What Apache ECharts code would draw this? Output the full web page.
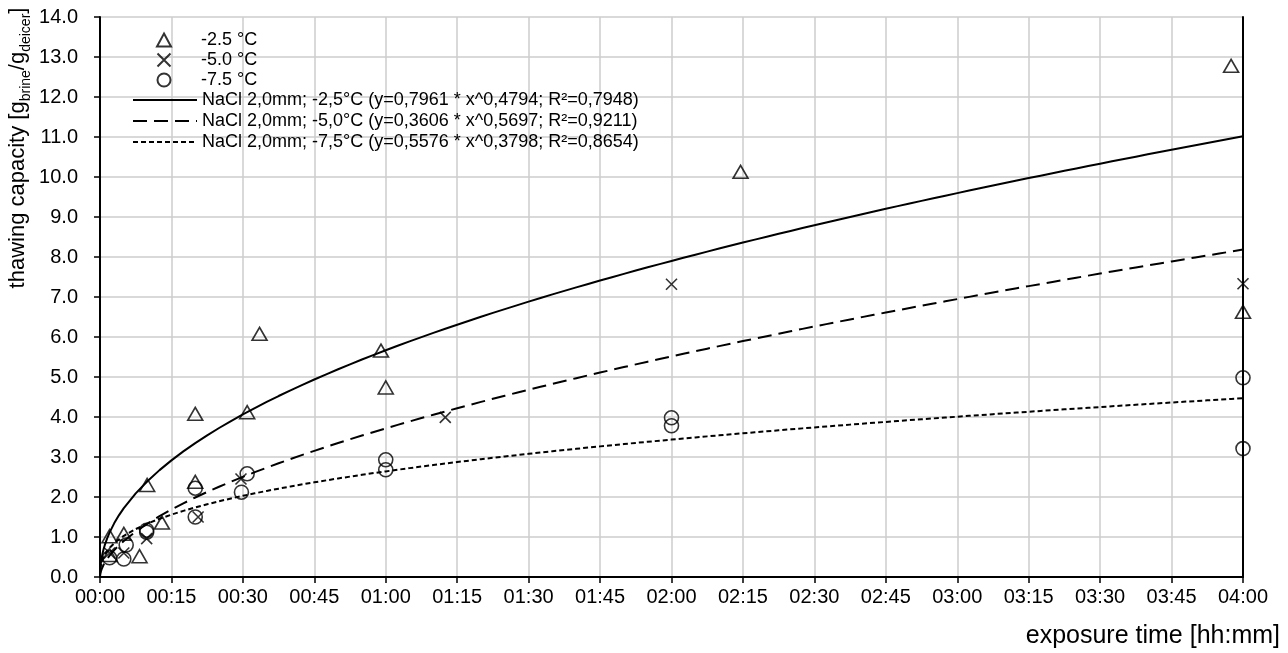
<!DOCTYPE html>
<html>
<head>
<meta charset="utf-8">
<script src="https://cdn.jsdelivr.net/npm/echarts@6/dist/echarts.min.js"></script>
<style>html,body{margin:0;padding:0;background:#fff}#c{width:1288px;height:653px}</style>
</head>
<body>
<div id="c"></div>
<script>
// ---- data (exposure time in minutes, thawing capacity) ----
const xTicks = ['00:00','00:15','00:30','00:45','01:00','01:15','01:30','01:45','02:00','02:15','02:30','02:45','03:00','03:15','03:30','03:45','04:00'];
const seriesNames = ['-2.5 °C', '-5.0 °C', '-7.5 °C'];
const x25 = [2, 2, 5, 8.3, 9.9, 13, 20, 20, 30.9, 33.5, 59, 60, 134.5, 237.5, 240];
const y25 = [1.02, 0.55, 1.08, 0.52, 2.30, 1.36, 4.08, 2.38, 4.12, 6.08, 5.66, 4.74, 10.13, 12.78, 6.63];
const x50 = [2, 5, 9.8, 20.6, 29.6, 72.5, 120, 240];
const y50 = [0.60, 0.60, 0.96, 1.50, 2.45, 3.99, 7.32, 7.33];
const x75 = [2, 5, 5.5, 9.8, 9.8, 20, 20, 29.7, 30.9, 60, 60, 120, 120, 240, 240];
const y75 = [0.48, 0.45, 0.80, 1.17, 1.12, 2.22, 1.50, 2.12, 2.58, 2.93, 2.68, 3.98, 3.78, 4.98, 3.21];
// power-law trend lines printed in the legend: y = a * x^b (x in minutes)
const trendNames = [
  'NaCl 2,0mm; -2,5°C (y=0,7961 * x^0,4794; R²=0,7948)',
  'NaCl 2,0mm; -5,0°C (y=0,3606 * x^0,5697; R²=0,9211)',
  'NaCl 2,0mm; -7,5°C (y=0,5576 * x^0,3798; R²=0,8654)'
];
const trendA = [0.7961, 0.3606, 0.5576];
const trendB = [0.4794, 0.5697, 0.3798];

function pairs(xs, ys) { return xs.map((x, i) => [x, ys[i]]); }
function trend(k) {
  const xs = [0, 0.01, 0.03, 0.06, 0.1, 0.2, 0.35, 0.5, 0.75, 1, 1.5, 2, 3, 4];
  for (let x = 5; x <= 240; x += 2.5) xs.push(x);
  if (xs[xs.length - 1] !== 240) xs.push(240);
  return xs.map(x => [x, trendA[k] * Math.pow(x, trendB[k])]);
}

const black = '#000';
const markerStyle = { color: 'rgba(0,0,0,0)', borderColor: black, borderWidth: 1.6 };
const font = 'Liberation Sans, Arial, sans-serif';

const chart = echarts.init(document.getElementById('c'), null, { renderer: 'canvas' });
chart.setOption({
  backgroundColor: '#fff',
  animation: false,
  textStyle: { fontFamily: font, color: black },
  grid: { left: 100, right: 45, top: 17, bottom: 76, containLabel: false },
  legend: [
    {
      data: seriesNames, orient: 'vertical', left: 151, top: 26,
      itemWidth: 14, itemHeight: 13, itemGap: 2,
      textStyle: { fontSize: 18, color: black, fontFamily: font, padding: [0, 0, 0, 25] }
    },
    {
      data: trendNames, orient: 'vertical', left: 127, top: 86,
      itemWidth: 64, itemHeight: 12, itemGap: 3,
      itemStyle: { color: 'rgba(0,0,0,0)', borderColor: 'rgba(0,0,0,0)', borderWidth: 0 },
      textStyle: { fontSize: 18, color: black, fontFamily: font }
    }
  ],
  xAxis: {
    type: 'value', min: 0, max: 240, interval: 15,
    axisLine: { show: true, onZero: false, lineStyle: { color: black, width: 2 } },
    axisTick: { show: true, length: 6, lineStyle: { color: black, width: 1.5 } },
    axisLabel: { fontSize: 20, color: black, margin: 10, fontFamily: font,
      formatter: v => xTicks[Math.round(v / 15)] },
    splitLine: { show: true, lineStyle: { color: '#cccccc', width: 1.5 } }
  },
  yAxis: [
    {
      type: 'value', min: 0, max: 14, interval: 1,
      axisLine: { show: true, lineStyle: { color: black, width: 2 } },
      axisTick: { show: true, length: 6, lineStyle: { color: black, width: 1.5 } },
      axisLabel: { fontSize: 20, color: black, margin: 22, fontFamily: font,
        formatter: v => v.toFixed(1) },
      splitLine: { show: true, lineStyle: { color: '#cccccc', width: 1.5 } }
    },
    {
      type: 'value', min: 0, max: 14, interval: 1, position: 'right',
      axisLine: { show: true, lineStyle: { color: black, width: 2 } },
      axisTick: { show: false }, axisLabel: { show: false }, splitLine: { show: false }
    }
  ],
  graphic: [
    {
      type: 'text', x: 20, y: 148, rotation: Math.PI / 2,
      style: {
        text: '{n|thawing capacity [g}{s|brine}{n|/g}{s|deicer}{n|]}',
        align: 'center', verticalAlign: 'middle', fill: black,
        rich: {
          n: { fontSize: 22, fontFamily: font, fill: black, lineHeight: 26, verticalAlign: 'top' },
          s: { fontSize: 14, fontFamily: font, fill: black, lineHeight: 26, verticalAlign: 'bottom' }
        }
      }
    },
    {
      type: 'text', right: 8, top: 624,
      style: { text: 'exposure time [hh:mm]', fontSize: 25, fontFamily: font, fill: black }
    }
  ],
  series: [
    { name: seriesNames[0], type: 'scatter', symbol: 'triangle', symbolSize: [15, 13],
      itemStyle: markerStyle, data: pairs(x25, y25), z: 3 },
    { name: seriesNames[1], type: 'scatter', symbol: 'path://M0 0L10 10M10 0L0 10', symbolSize: 11,
      itemStyle: markerStyle, data: pairs(x50, y50), z: 3 },
    { name: seriesNames[2], type: 'scatter', symbol: 'circle', symbolSize: 14,
      itemStyle: markerStyle, data: pairs(x75, y75), z: 3 },
    { name: trendNames[0], type: 'line', showSymbol: false, symbol: 'none', smooth: false,
      lineStyle: { color: black, width: 2, type: 'solid' }, itemStyle: { color: black },
      data: trend(0), z: 2 },
    { name: trendNames[1], type: 'line', showSymbol: false, symbol: 'none', smooth: false,
      lineStyle: { color: black, width: 2, type: [14, 7] }, itemStyle: { color: black },
      data: trend(1), z: 2 },
    { name: trendNames[2], type: 'line', showSymbol: false, symbol: 'none', smooth: false,
      lineStyle: { color: black, width: 2, type: [5, 3] }, itemStyle: { color: black },
      data: trend(2), z: 2 }
  ]
});
</script>
</body>
</html>
